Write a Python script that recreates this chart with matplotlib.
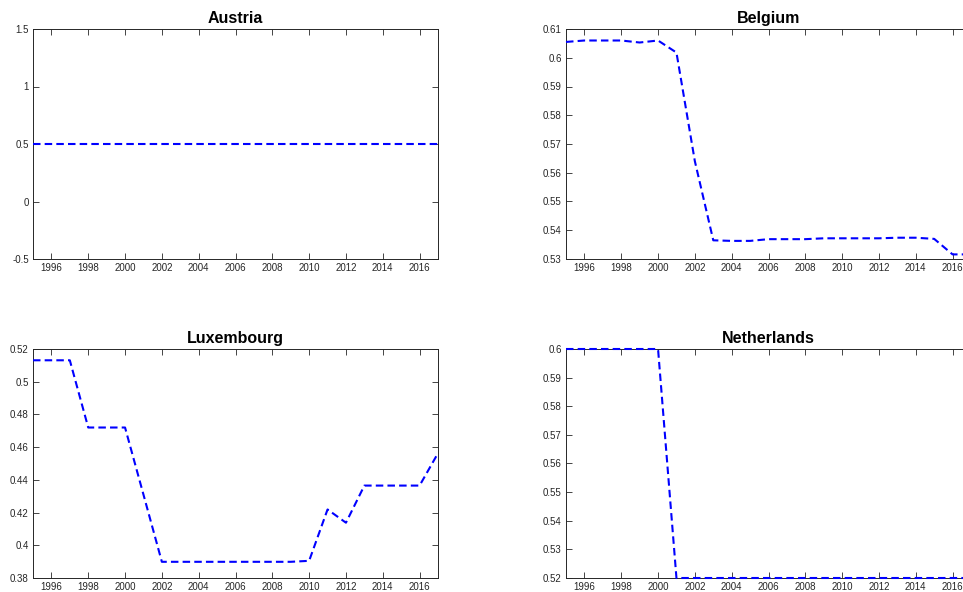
import matplotlib
matplotlib.use("Agg")
import matplotlib.pyplot as plt
from matplotlib.ticker import FuncFormatter

plt.rcParams['font.family'] = ['Liberation Sans', 'DejaVu Sans']

years = list(range(1995, 2018))

austria = [0.5] * 23
belgium = [0.6055, 0.6060, 0.6060, 0.6060, 0.6053, 0.6060, 0.6018, 0.5640,
           0.5365, 0.5363, 0.5363, 0.5369, 0.5369, 0.5369, 0.5372, 0.5372,
           0.5372, 0.5372, 0.5374, 0.5374, 0.5370, 0.5316, 0.5316]
luxembourg = [0.5131, 0.5131, 0.5131, 0.4720, 0.4720, 0.4720, 0.4310, 0.3899,
              0.3899, 0.3899, 0.3899, 0.3899, 0.3899, 0.3899, 0.3899, 0.3905,
              0.4219, 0.4138, 0.4365, 0.4365, 0.4365, 0.4365, 0.4563]
netherlands = [0.60, 0.60, 0.60, 0.60, 0.60, 0.60, 0.52, 0.52, 0.52, 0.52,
               0.52, 0.52, 0.52, 0.52, 0.52, 0.52, 0.52, 0.52, 0.52, 0.52,
               0.52, 0.52, 0.52]

titles = ["Austria", "Belgium", "Luxembourg", "Netherlands"]
series = [austria, belgium, luxembourg, netherlands]
ylims = [(-0.5, 1.5), (0.53, 0.61), (0.38, 0.52), (0.52, 0.60)]
yticks = [[-0.5, 0, 0.5, 1, 1.5],
          [0.53, 0.54, 0.55, 0.56, 0.57, 0.58, 0.59, 0.60, 0.61],
          [0.38, 0.40, 0.42, 0.44, 0.46, 0.48, 0.50, 0.52],
          [0.52, 0.53, 0.54, 0.55, 0.56, 0.57, 0.58, 0.59, 0.60]]
xticks = list(range(1996, 2017, 2))

W, H = 963, 592
fig = plt.figure(figsize=(W / 100, H / 100), dpi=100)

# axes boxes in pixels: left, top, width, height
boxes = [(33, 29, 405, 230), (566, 29, 405, 230),
         (33, 349, 405, 229), (566, 349, 405, 229)]

axcol = '#262626'
for (l, t, w, h), title, ys, yl, yt in zip(boxes, titles, series, ylims, yticks):
    ax = fig.add_axes([l / W, 1 - (t + h) / H, w / W, h / H])
    ax.plot(years, ys, color='#0000ff', linestyle='--', linewidth=1.5,
            dashes=(3.6, 2.0), clip_on=False, zorder=5)
    ax.set_xlim(1995, 2017)
    ax.set_ylim(*yl)
    ax.set_xticks(xticks)
    ax.set_yticks(yt)
    ax.yaxis.set_major_formatter(FuncFormatter(lambda v, p: ('%g' % round(v, 4))))
    ax.tick_params(direction='in', length=4, width=0.6, top=True, right=True,
                   labelsize=7, colors=axcol, pad=3)
    for s in ax.spines.values():
        s.set_color(axcol)
        s.set_linewidth(0.7)
    ax.set_title(title, fontsize=11.5, fontweight='bold', pad=4, color='black')

fig.savefig("out.png", dpi=100)
